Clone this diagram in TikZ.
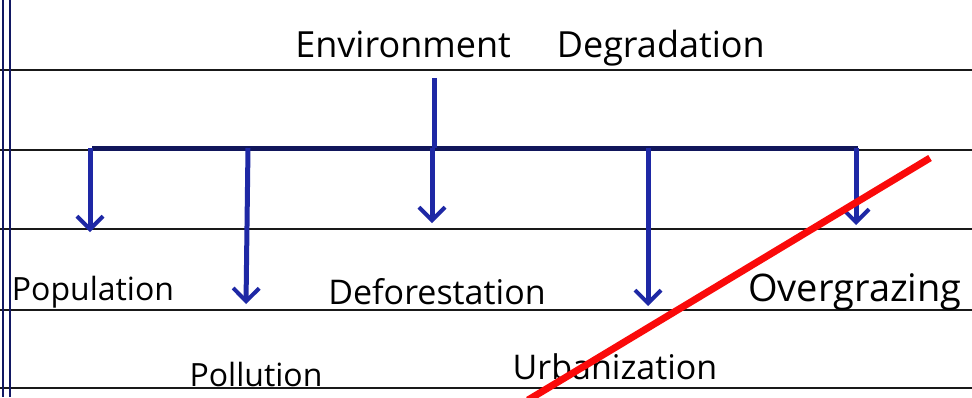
\documentclass[tikz,border=0pt]{standalone}
\usepackage{fontspec}
\setmainfont{Open Sans}
\usetikzlibrary{arrows.meta}
\definecolor{penblue}{RGB}{30,40,165}
\definecolor{rulegrey}{RGB}{25,25,25}
\definecolor{markred}{RGB}{250,10,10}

\begin{document}
\begin{tikzpicture}[x=1pt,y=-1pt,
	rule/.style={rulegrey,line width=2.5pt},
	margin/.style={penblue!60!black,line width=1.8pt},
	branch/.style={penblue,line width=5pt,-{Straight Barb[length=13pt,width=26pt,line width=4pt]}},
	bar/.style={penblue!55!black,line width=5pt},
	lbl/.style={inner sep=0pt,font=\fontsize{32}{36}\selectfont}]
	\useasboundingbox (0,0) rectangle (972,397);
	\fill[white] (0,0) rectangle (972,397); % paper
	\foreach \y in {70,150,229,310,388}
		\draw[rule] (0,\y) -- (972,\y); % ruled lines
	\draw[margin] (3,0) -- (3,397);
	\draw[margin] (10,0) -- (10,397);
	% title
	\node[lbl,font=\fontsize{36}{40}\selectfont] (title) at (530,48) {Environment\hspace{46pt}Degradation};
	\coordinate (stemtop) at (434,78);
	\coordinate (hub) at (434,148);
	\coordinate (barl) at (92,148);
	\coordinate (barr) at (858,148);
	\draw[bar] (barl) -- (barr); % cross bar
	\draw[penblue,line width=5pt] (stemtop) -- (hub); % stem
	% branches
	\coordinate (popt) at (90,148);
	\coordinate (polt) at (248,148);
	\coordinate (deft) at (432,148);
	\coordinate (urbt) at (648,148);
	\coordinate (ovet) at (856,148);
	\coordinate (poph) at (90,232);
	\coordinate (polh) at (246,304);
	\coordinate (defh) at (432,223);
	\coordinate (urbh) at (648,306);
	\coordinate (oveh) at (856,225);
	\draw[branch] (popt) -- (poph);
	\draw[branch] (polt) -- (polh);
	\draw[branch] (deft) -- (defh);
	\draw[branch] (urbt) -- (urbh);
	\draw[branch] (ovet) -- (oveh);
	% causes
	\node[lbl] (pop) at (93,292) {Population};
	\node[lbl] (pol) at (256,374) {Pollution};
	\node[lbl,font=\fontsize{34}{38}\selectfont] (def) at (437,292) {Deforestation};
	\node[lbl,font=\fontsize{34}{38}\selectfont] (urb) at (615,367) {Urbanization};
	\node[lbl,font=\fontsize{38}{42}\selectfont] (ove) at (855,292) {Overgrazing};
	% crossed out
	\coordinate (cross1) at (930,158);
	\coordinate (cross2) at (528,400);
	\draw[markred,line width=7pt] (cross1) -- (cross2);
\end{tikzpicture}
\end{document}
